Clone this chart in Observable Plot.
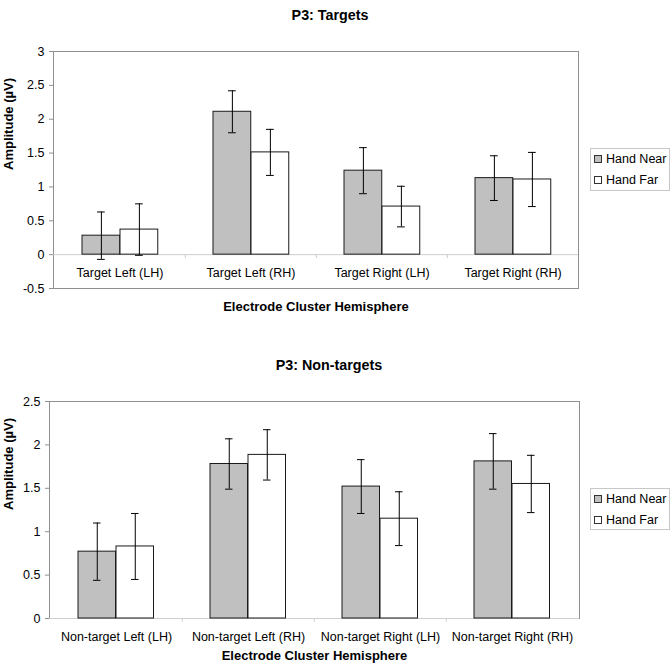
<!DOCTYPE html>
<html>
<head>
<meta charset="utf-8">
<script src="https://cdn.jsdelivr.net/npm/d3@7"></script>
<script src="https://cdn.jsdelivr.net/npm/@observablehq/plot@0.6"></script>
<style>
  html, body { margin: 0; padding: 0; background: #fff; }
  body { width: 670px; height: 669px; position: relative; overflow: hidden; font-family: "Liberation Sans", Arial, sans-serif; }
  .chart { position: absolute; left: 0; }
  .legend { position: absolute; border: 1px solid #c8c8c8; background: #fff; font-size: 12.5px; padding: 0 3px 0 3px; box-sizing: border-box; }
  .legend .row { height: 21px; line-height: 21px; white-space: nowrap; color: #000; }
  .legend .sw { display: inline-block; width: 6px; height: 6px; border: 1px solid #333; margin-right: 4px; vertical-align: 0px; }
</style>
</head>
<body>
<div id="c1" class="chart" style="top:0px"></div>
<div id="c2" class="chart" style="top:335px"></div>
<div id="l1" class="legend" style="left:590px; top:148px; width:80px; height:43px; padding-top:0px"></div>
<div id="l2" class="legend" style="left:590px; top:488px; width:80px; height:42px; padding-top:0px"></div>
<script>
// ---- data ----
const series = ["Hand Near", "Hand Far"];
const seriesFill = ["#c0c0c0", "#ffffff"];

const targetCats = ["Target Left (LH)", "Target Left (RH)", "Target Right (LH)", "Target Right (RH)"];
const targetNear = [0.28, 2.11, 1.24, 1.13];
const targetNearErr = [0.35, 0.31, 0.34, 0.33];
const targetFar = [0.37, 1.51, 0.71, 1.11];
const targetFarErr = [0.38, 0.34, 0.30, 0.40];
const targetTicks = [-0.5, 0, 0.5, 1, 1.5, 2, 2.5, 3];

const nonTargetCats = ["Non-target Left (LH)", "Non-target Left (RH)", "Non-target Right (LH)", "Non-target Right (RH)"];
const nonTargetNear = [0.77, 1.78, 1.52, 1.81];
const nonTargetNearErr = [0.33, 0.29, 0.31, 0.32];
const nonTargetFar = [0.83, 1.885, 1.15, 1.55];
const nonTargetFarErr = [0.38, 0.29, 0.31, 0.33];
const nonTargetTicks = [0, 0.5, 1, 1.5, 2, 2.5];

const yLabel = "Amplitude (µV)";
const xLabel = "Electrode Cluster Hemisphere";

function makeChart(opts) {
  const {title, cats, near, nearErr, far, farErr, ticks, width, height, ml, mr, mt, mb, xLabelDy, titleDx} = opts;
  const rows = [];
  cats.forEach((c, i) => {
    rows.push({cat: c, s: 0, v: near[i], e: nearErr[i]});
    rows.push({cat: c, s: 1, v: far[i], e: farErr[i]});
  });
  const band = (width - ml - mr) / cats.length;
  const outer = 28, bw = 38, cap = 8;
  const center = j => outer + bw * (j + 0.5);
  const marks = [];
  marks.push(Plot.frame({stroke: "#8f8f8f"}));
  marks.push(Plot.ruleY([0], {stroke: "#cfcfcf"}));
  marks.push(Plot.ruleX(cats.slice(1), {x: d => d, y1: 0, y2: 0, dx: -band / 2, insetBottom: -4, stroke: "#cfcfcf"}));
  for (let j = 0; j < 2; j++) {
    const d = rows.filter(r => r.s === j);
    marks.push(Plot.barY(d, {x: "cat", y1: 0, y2: "v", fill: seriesFill[j], stroke: "#1a1a1a", strokeWidth: 1,
      insetLeft: center(j) - bw / 2, insetRight: band - center(j) - bw / 2}));
    marks.push(Plot.ruleX(d, {x: "cat", y1: r => r.v - r.e, y2: r => r.v + r.e, dx: center(j) - band / 2, stroke: "#000", strokeWidth: 1}));
    marks.push(Plot.tickY(d, {x: "cat", y: r => r.v + r.e, insetLeft: center(j) - cap / 2, insetRight: band - center(j) - cap / 2, stroke: "#000", strokeWidth: 1}));
    marks.push(Plot.tickY(d, {x: "cat", y: r => r.v - r.e, insetLeft: center(j) - cap / 2, insetRight: band - center(j) - cap / 2, stroke: "#000", strokeWidth: 1}));
  }
  marks.push(Plot.text(cats, {x: d => d, y: 0, dy: 18, text: d => d, fontSize: 12.5, fill: "#000"}));
  marks.push(Plot.text([title], {frameAnchor: "top", dy: -42, dx: titleDx, text: d => d, fontSize: 14.3, fontWeight: "bold", fill: "#000"}));
  marks.push(Plot.text([xLabel], {frameAnchor: "bottom", dy: xLabelDy, text: d => d, fontSize: 13, fontWeight: "bold", fill: "#000"}));
  marks.push(Plot.text([yLabel], {frameAnchor: "left", dx: -(ml - 8), rotate: -90, text: d => d, fontSize: 13, fontWeight: "bold", fill: "#000"}));
  return Plot.plot({
    width, height,
    marginLeft: ml, marginRight: mr, marginTop: mt, marginBottom: mb,
    style: {fontFamily: "'Liberation Sans', Arial, sans-serif", fontSize: "12.5px", color: "#000", background: "#fff"},
    x: {type: "band", domain: cats, padding: 0, axis: null},
    y: {domain: [ticks[0], ticks[ticks.length - 1]], ticks: ticks, tickFormat: d => String(d), tickSize: 4, tickPadding: 6, label: null},
    marks: [Plot.axisY({ticks: ticks, tickFormat: d => String(d), tickSize: 4, tickPadding: 5, stroke: "#8f8f8f", fill: "#000", fontSize: 12.5, label: null}), ...marks]
  });
}

document.getElementById("c1").appendChild(makeChart({
  title: "P3: Targets", cats: targetCats, near: targetNear, nearErr: targetNearErr, far: targetFar, farErr: targetFarErr,
  ticks: targetTicks, width: 670, height: 335, ml: 53, mr: 92, mt: 51, mb: 47, xLabelDy: 22, titleDx: 14
}));
document.getElementById("c2").appendChild(makeChart({
  title: "P3: Non-targets", cats: nonTargetCats, near: nonTargetNear, nearErr: nonTargetNearErr, far: nonTargetFar, farErr: nonTargetFarErr,
  ticks: nonTargetTicks, width: 670, height: 334, ml: 49, mr: 91, mt: 66, mb: 51, xLabelDy: 41, titleDx: 14.5
}));

function makeLegend(id) {
  const el = document.getElementById(id);
  series.forEach((s, i) => {
    const row = document.createElement("div");
    row.className = "row";
    const sw = document.createElement("span");
    sw.className = "sw";
    sw.style.background = seriesFill[i];
    row.appendChild(sw);
    row.appendChild(document.createTextNode(s));
    el.appendChild(row);
  });
}
makeLegend("l1");
makeLegend("l2");
</script>
</body>
</html>
